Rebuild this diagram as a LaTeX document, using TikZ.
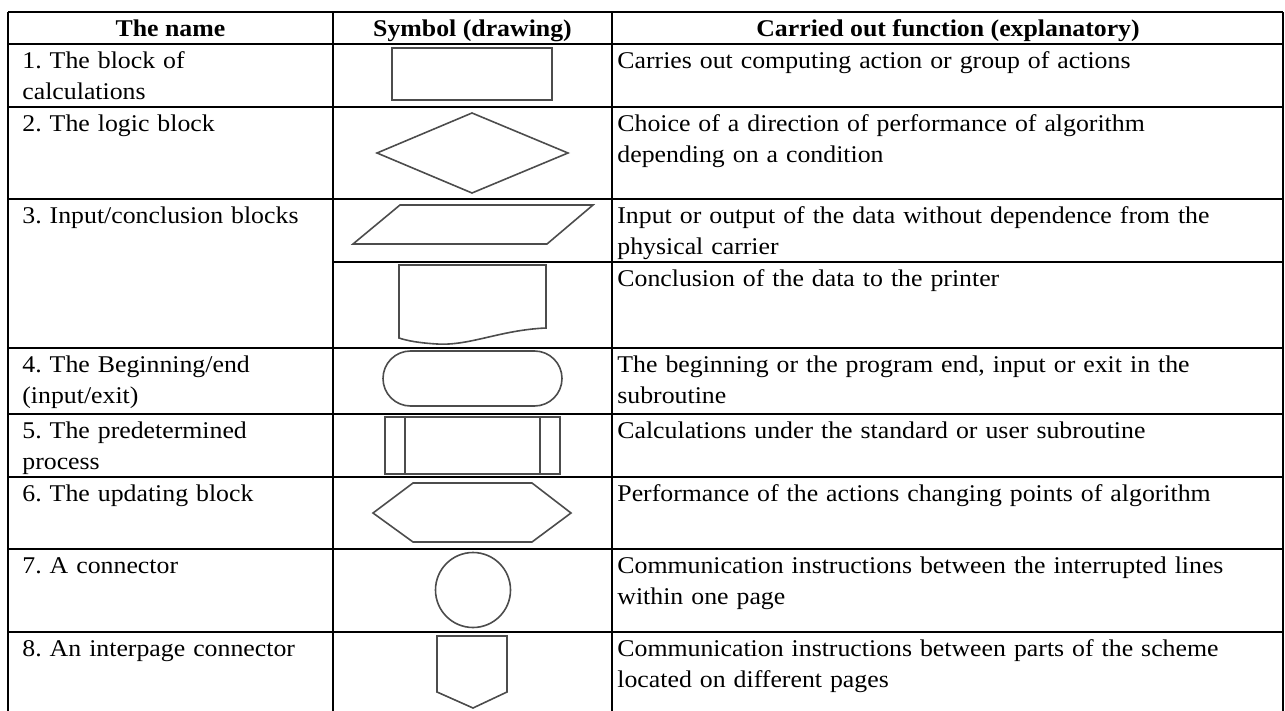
\documentclass[tikz,border=0pt]{standalone}
\usepackage{fontspec}
\setmainfont{Liberation Serif}[FakeStretch=1.075]
\usepackage{tikz}

\tikzset{
    tableline/.style={line width=1pt, black},
    symbol/.style={line width=0.8pt, draw=black!70},
    cell/.style={anchor=base west, inner sep=0pt, text width=#1, align=left,
        font=\fontsize{12}{15.3}\selectfont\frenchspacing},
    head/.style={anchor=base, inner sep=0pt, font=\fontsize{12}{15.3}\selectfont\bfseries},
}

\begin{document}
\begin{tikzpicture}[x=0.5pt, y=-0.5pt]
    \useasboundingbox (0,0) rectangle (1285,711);

    % Table frame and columns
    \draw[tableline] (8,12) -- (1283,12);
    \draw[tableline] (8,12) -- (8,711);
    \draw[tableline] (333,12) -- (333,711);
    \draw[tableline] (612,12) -- (612,711);
    \draw[tableline] (1283,12) -- (1283,711);

    % Row rules
    \foreach \y in {44,107,199,348,414,477,549,632}
        \draw[tableline] (8,\y) -- (1283,\y);
    \draw[tableline] (333,262) -- (1283,262);

    % Header
    \node[head] (nameHead) at (170.5,36.5) {The name};
    \node[head] (symHead) at (472.5,36.5) {Symbol (drawing)};
    \node[head] (funHead) at (948,36.5) {Carried out function (explanatory)};

    % Names
    \node[cell=300] (name1) at (22,68.5) {1. The block of\\calculations};
    \node[cell=300] (name2) at (22,131.5) {2. The logic block};
    \node[cell=300] (name3) at (22,223.5) {3. Input/conclusion blocks};
    \node[cell=300] (name4) at (22,372.5) {4. The Beginning/end\\(input/exit)};
    \node[cell=300] (name5) at (22,438.5) {5. The predetermined\\process};
    \node[cell=300] (name6) at (22,501.5) {6. The updating block};
    \node[cell=300] (name7) at (22,573.5) {7. A connector};
    \node[cell=300] (name8) at (22,656.5) {8. An interpage connector};

    % Functions
    \node[cell=660] (fun1) at (617,68.5) {Carries out computing action or group of actions};
    \node[cell=660] (fun2) at (617,131.5) {Choice of a direction of performance of algorithm\\depending on a condition};
    \node[cell=660] (fun3a) at (617,223.5) {Input or output of the data without dependence from the\\physical carrier};
    \node[cell=660] (fun3b) at (617,286.5) {Conclusion of the data to the printer};
    \node[cell=660] (fun4) at (617,372.5) {The beginning or the program end, input or exit in the\\subroutine};
    \node[cell=660] (fun5) at (617,438.5) {Calculations under the standard or user subroutine};
    \node[cell=660] (fun6) at (617,501.5) {Performance of the actions changing points of algorithm};
    \node[cell=660] (fun7) at (617,573.5) {Communication instructions between the interrupted lines\\within one page};
    \node[cell=660] (fun8) at (617,656.5) {Communication instructions between parts of the scheme\\located on different pages};

    % Symbols
    \draw[symbol] (392,48) rectangle (552,100);
    \draw[symbol] (377,153) -- (472,113) -- (568,153) -- (472,193) -- cycle;
    \draw[symbol] (400,205) -- (593,205) -- (547,244) -- (353,244) -- cycle;
    \draw[symbol] (399,265) -- (546,265) -- (546,328)
        .. controls (500,330) and (470,346) .. (437,344)
        .. controls (420,343) and (408,341) .. (399,338) -- cycle;
    \draw[symbol, rounded corners=13.75pt] (383,351) rectangle (562,406);
    \draw[symbol] (385,417) rectangle (560,474);
    \draw[symbol] (405,417) -- (405,474);
    \draw[symbol] (540,417) -- (540,474);
    \draw[symbol] (373,513) -- (413,483) -- (532,483) -- (571,513) -- (532,542) -- (413,542) -- cycle;
    \draw[symbol] (473,590) circle (18.75pt);
    \draw[symbol] (437,636) -- (507,636) -- (507,692) -- (473,708) -- (437,692) -- cycle;
\end{tikzpicture}
\end{document}
